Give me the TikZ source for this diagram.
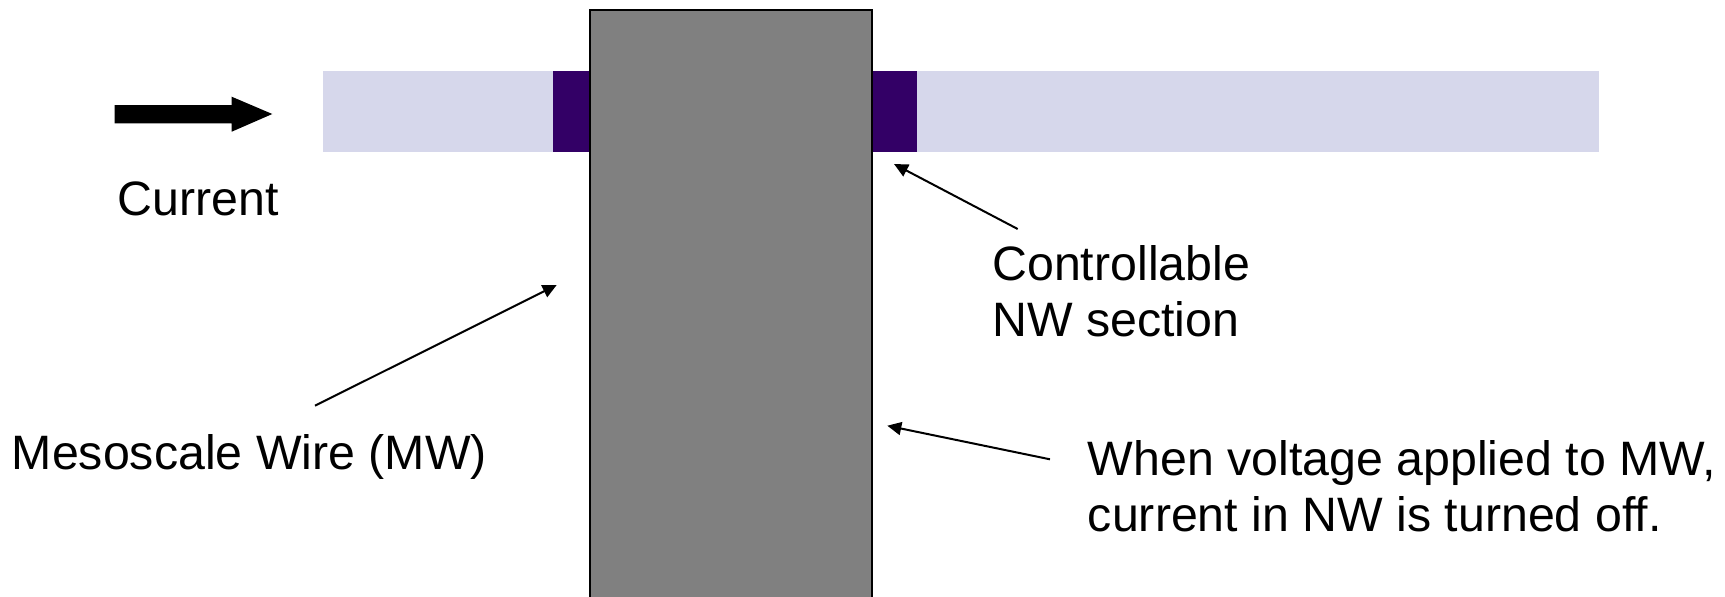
\documentclass[tikz,border=0pt]{standalone}
\usepackage{fontspec}
\setmainfont{Liberation Sans}
\usetikzlibrary{arrows.meta}

\definecolor{nwlight}{RGB}{214,215,235}
\definecolor{nwdark}{RGB}{51,0,102}
\definecolor{mwgray}{RGB}{128,128,128}

\tikzset{
  label text/.style={inner sep=0pt, anchor=base west, align=left,
    font=\fontsize{24.15pt}{28.35pt}\selectfont},
  pointer/.style={line width=1pt, -{Triangle[length=7pt,width=6.5pt]}},
}

\begin{document}
\begin{tikzpicture}[x=0.5pt, y=-0.5pt]
  \clip (0,0) rectangle (1725,596);

  % nanowire with its two controllable sections
  \fill[nwlight] (322.7,71) rectangle (1599,151.5);
  \fill[nwdark] (552.7,71) rectangle (591,151.5);
  \fill[nwdark] (871,71) rectangle (916.7,151.5);

  % mesoscale wire crossing the nanowire
  \filldraw[fill=mwgray, draw=black, line width=1pt] (590,10) rectangle (872,610);

  % block arrow showing current direction
  \fill[black] (114.7,105) -- (231.7,105) -- (231.7,96.7) -- (272.3,114)
    -- (231.7,131.7) -- (231.7,123.3) -- (114.7,123.3) -- cycle;

  % labels (base anchor of a two-line label sits on its last line)
  \node[label text] (current) at (117,215) {Current};
  \node[label text] (ctrl) at (992,336.7) {Controllable\\NW section};
  \node[label text] (meso) at (11.5,469.3) {Mesoscale Wire (MW)};
  \node[label text] (volt) at (1087.5,531.7) {When voltage applied to MW,\\current in NW is turned off.};

  % pointer ends
  \coordinate (ctrl start) at (1017.7,229);
  \coordinate (ctrl tip) at (894,164);
  \coordinate (meso start) at (315,405.7);
  \coordinate (meso tip) at (556.7,285);
  \coordinate (volt start) at (1050,459.3);
  \coordinate (volt tip) at (887.3,425.7);

  \draw[pointer] (ctrl start) -- (ctrl tip);
  \draw[pointer] (meso start) -- (meso tip);
  \draw[pointer] (volt start) -- (volt tip);
\end{tikzpicture}
\end{document}
